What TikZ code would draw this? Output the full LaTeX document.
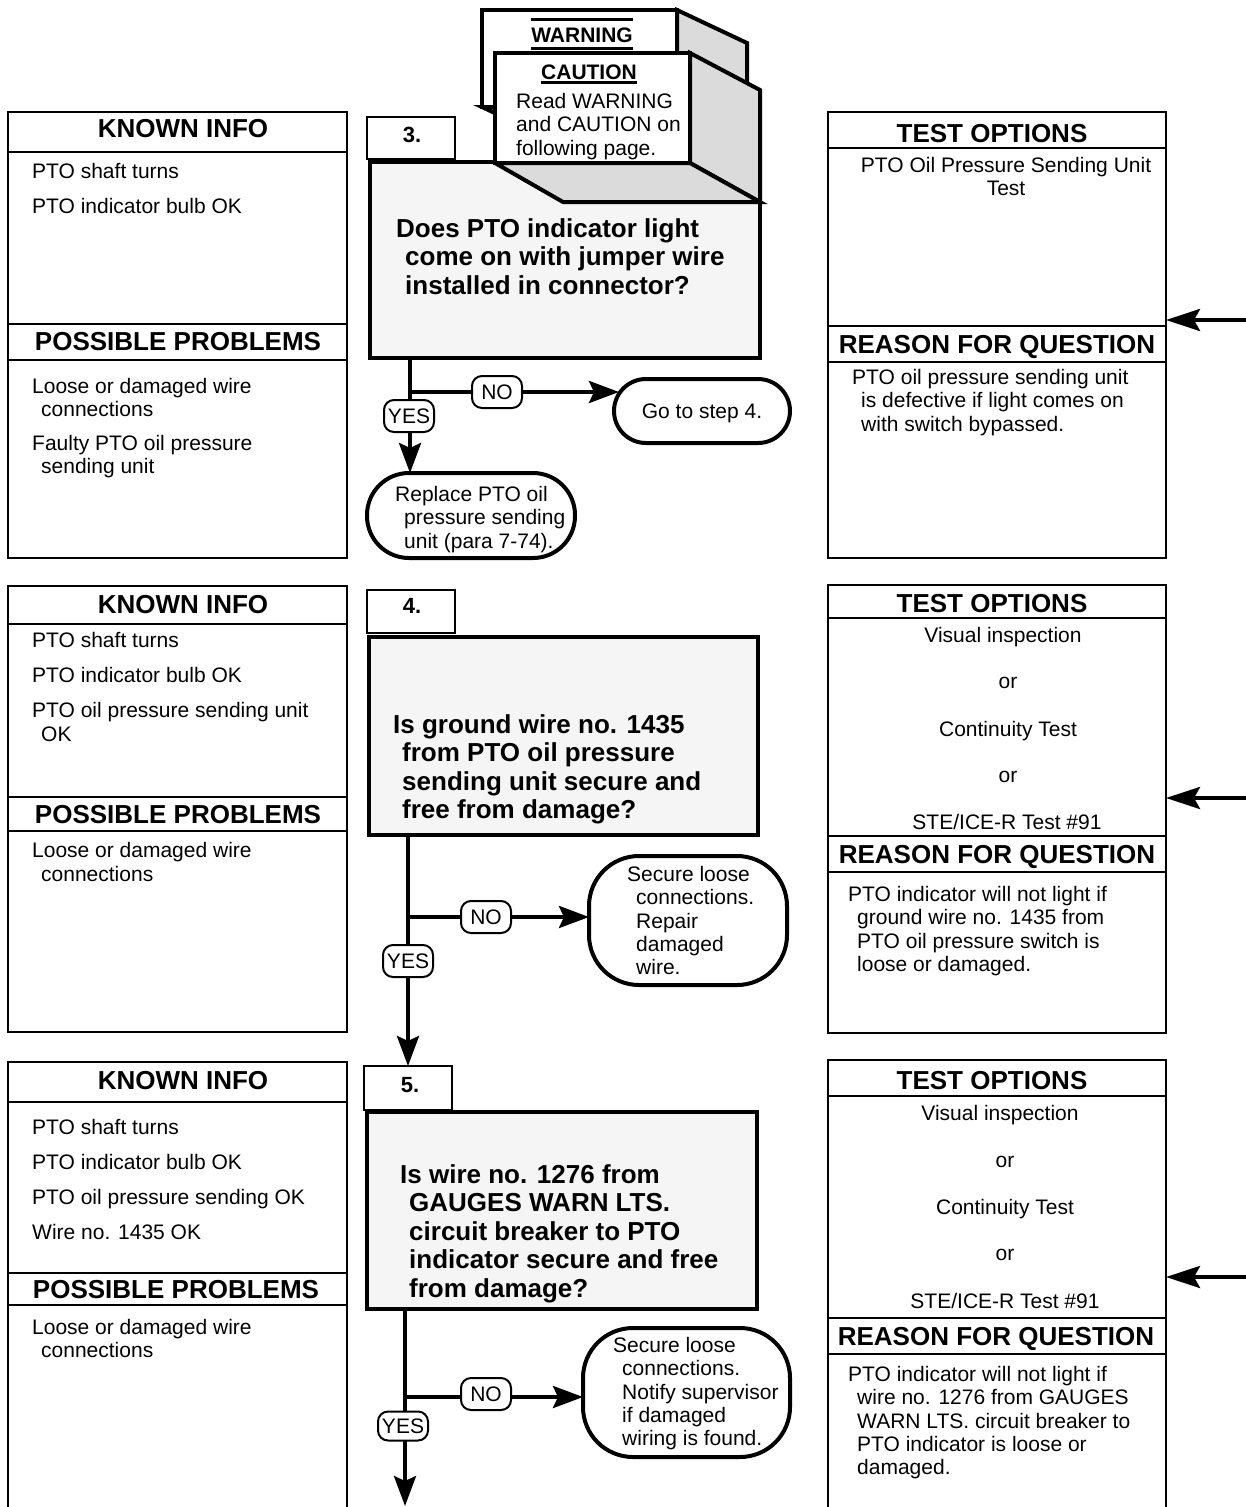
\documentclass[tikz,border=0pt]{standalone}
\usepackage{fontspec}
\setmainfont{Liberation Sans}
\usetikzlibrary{arrows.meta,calc}
\newcommand\bodyfont{\fontsize{21}{23.3}\selectfont}
\newcommand\headfont{\fontsize{26}{28}\selectfont\bfseries}
\newcommand\qfont{\fontsize{26}{28.4}\selectfont\bfseries}
\newcommand\numfont{\fontsize{22}{24}\selectfont\bfseries}
\newcommand\hang{\hspace*{9pt}}
\begin{document}
\begin{tikzpicture}[x=1pt,y=-1pt,
  >={Stealth[length=30pt,width=22pt,inset=5pt]},
  panel/.style={draw,line width=2pt,anchor=north west,inner sep=0pt,outer sep=0pt},
  rule/.style={line width=2pt},
  stepbox/.style={draw,line width=4pt,fill=black!4,anchor=north west,inner sep=0pt,outer sep=0pt},
  numbox/.style={draw,line width=2pt,fill=white,anchor=north west,inner sep=0pt,outer sep=0pt},
  endpill/.style={draw,line width=4pt,fill=white,inner sep=0pt,outer sep=0pt},
  tag/.style={draw,line width=2pt,fill=white,rounded corners=10pt,minimum width=50pt,
    minimum height=32pt,inner sep=0pt,font=\bodyfont,text height=15pt,text depth=0pt},
  flow/.style={line width=4pt},
  sidearrow/.style={line width=4pt,-{Stealth[length=34pt,width=22pt,inset=6pt]}},
  body/.style={font=\bodyfont,align=left,anchor=north west,inner sep=0pt},
  ctext/.style={font=\bodyfont,anchor=base,inner sep=0pt},
  head/.style={font=\headfont,anchor=base,inner sep=0pt},
  num/.style={font=\numfont,anchor=base,inner sep=0pt},
  question/.style={font=\qfont,align=left,anchor=north west,inner sep=0pt},
  face/.style={draw,line width=4pt,fill=black!14}
]
\useasboundingbox (0,0) rectangle (1246,1507);

% ---------------- step 3 ----------------
\node[panel,minimum width=339pt,minimum height=446pt] (k3) at (8,112) {};
\draw[rule] (8,152) -- (347,152);
\draw[rule] (8,324) -- (347,324);
\draw[rule] (8,360) -- (347,360);
\node[head] (k3h) at (183,137) {KNOWN INFO};
\node[body] (k3a) at (32,163) {PTO shaft turns};
\node[body] (k3b) at (32,198) {PTO indicator bulb OK};
\node[head] (k3p) at (178,350) {POSSIBLE PROBLEMS};
\node[body] (k3c) at (32,378) {Loose or damaged wire\\\hang connections};
\node[body] (k3d) at (32,435) {Faulty PTO oil pressure\\\hang sending unit};

\node[panel,minimum width=338pt,minimum height=446pt] (t3) at (828,112) {};
\draw[rule] (828,148) -- (1166,148);
\draw[rule] (828,326) -- (1166,326);
\draw[rule] (828,362) -- (1166,362);
\node[head] (t3h) at (992,142) {TEST OPTIONS};
\node[font=\bodyfont,align=center,anchor=north,inner sep=0pt] (t3a) at (1006,157) {PTO Oil Pressure Sending Unit\\Test};
\node[head] (t3r) at (997,353) {REASON FOR QUESTION};
\node[body] (t3b) at (852,369) {PTO oil pressure sending unit\\\hang is defective if light comes on\\\hang with switch bypassed.};
\coordinate (src3) at (1246,320);
\draw[sidearrow] (src3) -- (src3 -| t3.east);

\node[numbox,minimum width=88pt,minimum height=42pt] (n3) at (367,117) {};
\node[num] (n3t) at (412,142) {3.};
\node[stepbox,minimum width=390pt,minimum height=196pt] (q3) at (370,162) {};

% warning and caution cards resting on the step box
\filldraw[face] (677,10) -- (747,43) -- (747,140) -- (677,107) -- cycle;
\filldraw[face] (482,107) -- (552,140) -- (747,140) -- (677,107) -- cycle;
\filldraw[draw,line width=4pt,fill=white] (482,10) rectangle (677,107);
\node[font=\fontsize{21}{23}\selectfont\bfseries,anchor=base,inner sep=0pt] (warn) at (582,42) {WARNING};
\draw[line width=3pt] ($(warn.base west)+(0,6)$) -- ($(warn.base east)+(0,6)$);
\draw[line width=3pt] ($(warn.base west)+(0,-23)$) -- ($(warn.base east)+(0,-23)$);
\filldraw[face] (690,53) -- (760,90) -- (760,202) -- (690,163) -- cycle;
\filldraw[face] (495,163) -- (563,202) -- (760,202) -- (690,163) -- cycle;
\filldraw[draw,line width=4pt,fill=white] (495,53) rectangle (690,163);
\node[font=\fontsize{21}{23}\selectfont\bfseries,anchor=base,inner sep=0pt] (caut) at (589,79) {CAUTION};
\draw[line width=3pt] ($(caut.base west)+(0,3.5)$) -- ($(caut.base east)+(0,3.5)$);
\node[body] (read) at (516,93) {Read WARNING\\and CAUTION on\\following page.};

\node[question] (q3t) at (396,218.5) {Does PTO indicator light\\\hang come on with jumper wire\\\hang installed in connector?};

\node[endpill,minimum width=176pt,minimum height=64pt,rounded corners=32pt,
  font=\bodyfont,text height=15pt,text depth=0pt] (go4) at (702,411) {Go to step 4.};
\node[endpill,minimum width=208pt,minimum height=85pt,rounded corners=42pt] (rep3) at (471,515.5) {};
\node[body] (rep3t) at (395,486) {Replace PTO oil\\\hang pressure sending\\\hang unit (para 7-74).};

\coordinate (j3) at (410,392);
\draw[flow,->] (q3.south -| j3) -- (j3 |- rep3.north);
\draw[flow,->] (j3) -- ($(j3 -| go4.west)+(5,0)$);
\node[tag] (no3) at ($(j3)+(87,0)$) {NO};
\node[tag] (yes3) at ($(j3)+(-1,24)$) {YES};

% ---------------- step 4 ----------------
\node[panel,minimum width=339pt,minimum height=446pt] (k4) at (8,586) {};
\draw[rule] (8,624) -- (347,624);
\draw[rule] (8,797) -- (347,797);
\draw[rule] (8,831) -- (347,831);
\node[head] (k4h) at (183,613) {KNOWN INFO};
\node[body] (k4a) at (32,632.5) {PTO shaft turns};
\node[body] (k4b) at (32,667.5) {PTO indicator bulb OK};
\node[body] (k4c) at (32,702.5) {PTO oil pressure sending unit\\\hang OK};
\node[head] (k4p) at (178,823) {POSSIBLE PROBLEMS};
\node[body] (k4d) at (32,842.5) {Loose or damaged wire\\\hang connections};

\node[panel,minimum width=338pt,minimum height=448pt] (t4) at (828,585) {};
\draw[rule] (828,618) -- (1166,618);
\draw[rule] (828,836) -- (1166,836);
\draw[rule] (828,872) -- (1166,872);
\node[head] (t4h) at (992,612) {TEST OPTIONS};
\node[ctext] (t4a) at (1003,642) {Visual inspection};
\node[ctext] (t4b) at (1008,688) {or};
\node[ctext] (t4c) at (1008,736) {Continuity Test};
\node[ctext] (t4d) at (1008,782) {or};
\node[ctext] (t4e) at (1007,829) {STE/ICE-R Test \#91};
\node[head] (t4r) at (997,863) {REASON FOR QUESTION};
\node[body] (t4f) at (848,886) {PTO indicator will not light if\\\hang ground wire no. 1435 from\\\hang PTO oil pressure switch is\\\hang loose or damaged.};
\coordinate (src4) at (1246,798);
\draw[sidearrow] (src4) -- (src4 -| t4.east);

\node[numbox,minimum width=88pt,minimum height=43pt] (n4) at (367,590) {};
\node[num] (n4t) at (412,613) {4.};
\node[stepbox,minimum width=389pt,minimum height=198pt] (q4) at (369,637) {};
\node[question] (q4t) at (393,714.5) {Is ground wire no. 1435\\\hang from PTO oil pressure\\\hang sending unit secure and\\\hang free from damage?};

\node[endpill,minimum width=198pt,minimum height=129pt,rounded corners=50pt] (sec4) at (688,920.5) {};
\node[body] (sec4t) at (627,866) {Secure loose\\\hang connections.\\\hang Repair\\\hang damaged\\\hang wire.};

% ---------------- step 5 ----------------
\node[panel,minimum width=339pt,minimum height=470pt] (k5) at (8,1062) {};
\draw[rule] (8,1102) -- (347,1102);
\draw[rule] (8,1273) -- (347,1273);
\draw[rule] (8,1305) -- (347,1305);
\node[head] (k5h) at (183,1089) {KNOWN INFO};
\node[body] (k5a) at (32,1119) {PTO shaft turns};
\node[body] (k5b) at (32,1154) {PTO indicator bulb OK};
\node[body] (k5c) at (32,1189) {PTO oil pressure sending OK};
\node[body] (k5d) at (32,1224) {Wire no. 1435 OK};
\node[head] (k5p) at (176,1298) {POSSIBLE PROBLEMS};
\node[body] (k5e) at (32,1319) {Loose or damaged wire\\\hang connections};

\node[panel,minimum width=338pt,minimum height=472pt] (t5) at (828,1060) {};
\draw[rule] (828,1096) -- (1166,1096);
\draw[rule] (828,1318) -- (1166,1318);
\draw[rule] (828,1354) -- (1166,1354);
\node[head] (t5h) at (992,1089) {TEST OPTIONS};
\node[ctext] (t5a) at (1000,1120) {Visual inspection};
\node[ctext] (t5b) at (1005,1167) {or};
\node[ctext] (t5c) at (1005,1214) {Continuity Test};
\node[ctext] (t5d) at (1005,1260) {or};
\node[ctext] (t5e) at (1005,1308) {STE/ICE-R Test \#91};
\node[head] (t5r) at (996,1345) {REASON FOR QUESTION};
\node[body] (t5f) at (848,1366) {PTO indicator will not light if\\\hang wire no. 1276 from GAUGES\\\hang WARN LTS. circuit breaker to\\\hang PTO indicator is loose or\\\hang damaged.};
\coordinate (src5) at (1246,1277);
\draw[sidearrow] (src5) -- (src5 -| t5.east);

\node[numbox,minimum width=88pt,minimum height=44pt] (n5) at (364,1066) {};
\node[num] (n5t) at (410,1092) {5.};
\node[stepbox,minimum width=390pt,minimum height=197pt] (q5) at (367,1112) {};
\node[question] (q5t) at (400,1164.5) {Is wire no. 1276 from\\\hang GAUGES WARN LTS.\\\hang circuit breaker to PTO\\\hang indicator secure and free\\\hang from damage?};

\node[endpill,minimum width=207pt,minimum height=129pt,rounded corners=50pt] (sec5) at (686.5,1392.5) {};
\node[body] (sec5t) at (613,1337) {Secure loose\\\hang connections.\\\hang Notify supervisor\\\hang if damaged\\\hang wiring is found.};

% ---------------- flow of steps 4 and 5 ----------------
\coordinate (j4) at (408,917);
\draw[flow,->] (q4.south -| j4) -- (j4 |- n5.north);
\draw[flow,->] (j4) -- (j4 -| sec4.west);
\node[tag] (no4) at ($(j4)+(78,0)$) {NO};
\node[tag] (yes4) at ($(j4)+(0,44)$) {YES};

\coordinate (j5) at (405,1397);
\coordinate (out5) at (405,1506);
\draw[flow,->] (q5.south -| j5) -- (out5);
\draw[flow,->] (j5) -- (j5 -| sec5.west);
\node[tag] (no5) at ($(j5)+(81,-3)$) {NO};
\node[tag,minimum height=29pt] (yes5) at ($(j5)+(-2,29)$) {YES};
\end{tikzpicture}
\end{document}
